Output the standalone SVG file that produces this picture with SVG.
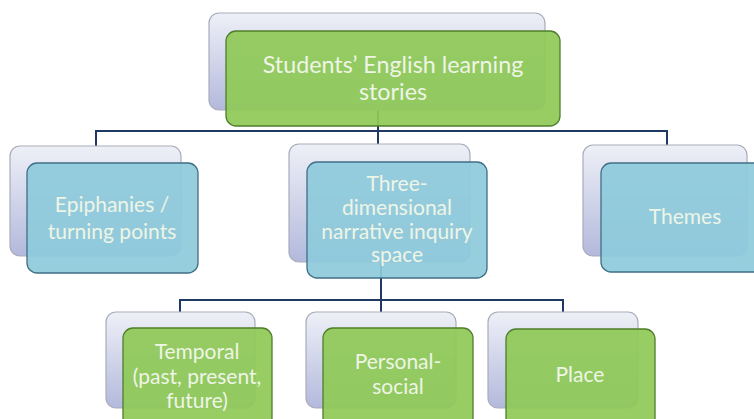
<svg xmlns="http://www.w3.org/2000/svg" width="754" height="419" viewBox="0 0 754 419">
<defs>
<linearGradient id="backg" x1="0" y1="0" x2="0" y2="1">
<stop offset="0" stop-color="#eef0f7"/>
<stop offset="1" stop-color="#b3b9dc"/>
</linearGradient>
<style>
.back{fill:url(#backg);stroke:#a9abbb;stroke-width:1.2}
.green{fill:#8fc957;fill-opacity:0.93;stroke:#4f7d2a;stroke-width:1.3}
.blue{fill:#8ecadb;fill-opacity:0.93;stroke:#3f6f86;stroke-width:1.3}
.t{font-family:Lato,"Open Sans",sans-serif;fill:#eef5e6;text-anchor:middle;font-size:21px}
.big{font-size:23.3px}
.conn{fill:none;stroke:#1f3864;stroke-width:2}
</style>
</defs>
<rect width="754" height="419" fill="#ffffff"/>
<g id="connectors">
<path class="conn" d="M378 110 V131 M96 155 V131 H667 V145 M378 131 V144"/>
<path class="conn" d="M381 262 V300 M180 312 V300 H563 V312 M381 300 V312"/>
</g>
<g id="n-root">
<rect class="back" x="209" y="13" width="336" height="97" rx="10"/>
<rect class="green" x="226" y="31" width="334" height="95" rx="10"/>
<text class="t big" x="393" y="73">Students’ English learning</text>
<text class="t big" x="393" y="100">stories</text>
</g>
<g id="n-epiphanies">
<rect class="back" x="10" y="146" width="171" height="110" rx="10"/>
<rect class="blue" x="27" y="163" width="171" height="110" rx="10"/>
<text class="t" x="112" y="212">Epiphanies /</text>
<text class="t" x="112" y="239">turning points</text>
</g>
<g id="n-three">
<rect class="back" x="289" y="144" width="181" height="118" rx="10"/>
<rect class="blue" x="307" y="162" width="180" height="116" rx="10"/>
<text class="t" x="397" y="191">Three-</text>
<text class="t" x="397" y="215">dimensional</text>
<text class="t" x="397" y="239">narrative inquiry</text>
<text class="t" x="397" y="262">space</text>
</g>
<g id="n-themes">
<rect class="back" x="583" y="145" width="164" height="111" rx="10"/>
<rect class="blue" x="601" y="163" width="170" height="109" rx="10"/>
<text class="t" x="685" y="224">Themes</text>
</g>
<g id="n-temporal">
<rect class="back" x="106" y="312" width="149" height="96" rx="10"/>
<rect class="green" x="123" y="328" width="149" height="100" rx="10"/>
<text class="t" x="197" y="359">Temporal</text>
<text class="t" x="197" y="384">(past, present,</text>
<text class="t" x="197" y="408">future)</text>
</g>
<g id="n-personal">
<rect class="back" x="306" y="312" width="150" height="96" rx="10"/>
<rect class="green" x="323" y="328" width="150" height="100" rx="10"/>
<text class="t" x="398" y="369">Personal-</text>
<text class="t" x="398" y="394">social</text>
</g>
<g id="n-place">
<rect class="back" x="488" y="312" width="150" height="96" rx="10"/>
<rect class="green" x="506" y="329" width="149" height="100" rx="10"/>
<text class="t" x="580" y="382">Place</text>
</g>
</svg>
